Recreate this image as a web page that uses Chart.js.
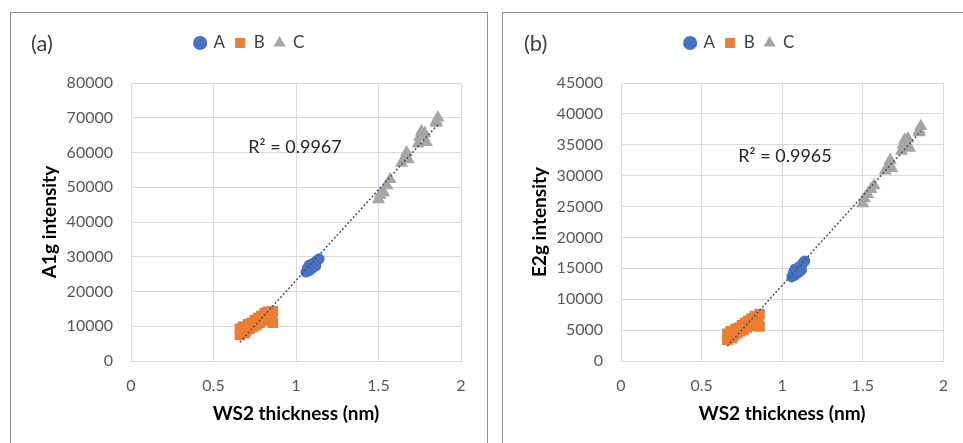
<!DOCTYPE html>
<html>
<head>
<meta charset="utf-8">
<script src="https://cdn.jsdelivr.net/npm/chart.js@4.4.1/dist/chart.umd.min.js"></script>
<style>
  body { margin: 0; background: #fff; font-family: Lato, sans-serif; overflow: hidden; }
  .panel { position: absolute; top: 12px; height: 440px; border: 1.5px solid #8f8f8f; box-sizing: border-box; }
  #boxA { left: 10px; width: 478px; }
  #boxB { left: 502px; width: 470px; }
  canvas { position: absolute; }
  .tag { position: absolute; font-size: 22px; line-height: 26px; color: #404040; }
</style>
</head>
<body>
<div class="panel" id="boxA"></div>
<div class="panel" id="boxB"></div>
<canvas id="chartA" width="477" height="431" style="left:10px;top:12px;width:477px;height:431px"></canvas>
<canvas id="chartB" width="461" height="431" style="left:502px;top:12px;width:461px;height:431px"></canvas>
<div class="tag" style="left:31px;top:30px">(a)</div>
<div class="tag" style="left:524px;top:30px">(b)</div>
<script>
// series labels
const seriesNames = ['A', 'B', 'C'];

// WS2 thickness (nm) per sample
const thicknessA = [1.06, 1.07, 1.08, 1.09, 1.10, 1.10, 1.11, 1.12, 1.13, 1.14, 1.08, 1.12];
const thicknessB = [0.66, 0.66, 0.67, 0.68, 0.69, 0.70, 0.71, 0.72, 0.73, 0.74, 0.75, 0.76,
                    0.77, 0.78, 0.79, 0.80, 0.81, 0.82, 0.83, 0.84, 0.85, 0.86, 0.86, 0.85];
const thicknessC = [1.50, 1.51, 1.53, 1.55, 1.57, 1.64, 1.66, 1.67, 1.68,
                    1.74, 1.75, 1.76, 1.78, 1.79, 1.85, 1.86, 1.85];

// A1g intensity
const a1gA = [25600, 26800, 26000, 27500, 26700, 28000, 28200, 28600, 29000, 29400, 27600, 27400];
const a1gB = [7500, 9300, 8200, 9900, 8000, 8800, 10600, 9300, 11000, 9800, 11800, 10300,
              12400, 11000, 13000, 11600, 13800, 12200, 14200, 12000, 13700, 11000, 14300, 12500];
const a1gC = [46500, 47800, 48500, 50500, 52300, 57000, 58500, 60000, 58000,
              62500, 64500, 66000, 65500, 63000, 68500, 70000, 69000];

// E2g intensity
const e2gA = [13600, 14400, 13900, 14800, 14300, 15100, 15300, 15500, 15900, 16200, 14900, 14700];
const e2gB = [3400, 4400, 3800, 4800, 3700, 4200, 5200, 4500, 5400, 4800, 5800, 5000,
              6200, 5400, 6500, 5700, 6900, 6000, 7300, 6000, 6900, 5600, 7600, 6300];
const e2gC = [25500, 26300, 27000, 27800, 28400, 30800, 31700, 32500, 31200,
              34000, 35000, 35800, 36000, 34500, 37000, 38000, 37300];

// axis ranges
const xMin = 0, xMax = 2, xStep = 0.5;
const a1gMax = 80000, a1gStep = 10000;
const e2gMax = 45000, e2gStep = 5000;

const r2A1g = 'R² = 0.9967';
const r2E2g = 'R² = 0.9965';

const colors = ['#4472C4', '#ED7D31', '#A5A5A5'];
const pointStyles = ['circle', 'rect', 'triangle'];
const pointRadii = [5.5, 7.4, 7.6];

function toPoints(xs, ys) {
  return xs.map((x, i) => ({ x: x, y: ys[i] }));
}

// linear least squares over all series, drawn between min and max thickness
function trendline(xs, ys) {
  const n = xs.length;
  const mx = xs.reduce((a, b) => a + b, 0) / n;
  const my = ys.reduce((a, b) => a + b, 0) / n;
  let sxy = 0, sxx = 0;
  for (let i = 0; i < n; i++) {
    sxy += (xs[i] - mx) * (ys[i] - my);
    sxx += (xs[i] - mx) * (xs[i] - mx);
  }
  const slope = sxy / sxx;
  const icpt = my - slope * mx;
  const lo = Math.min(...xs), hi = Math.max(...xs);
  return [{ x: lo, y: icpt + slope * lo }, { x: hi, y: icpt + slope * hi }];
}

// draws the R² note on the plot
const r2Plugin = {
  id: 'r2Label',
  afterDatasetsDraw(chart, args, opts) {
    const ctx = chart.ctx;
    ctx.save();
    ctx.font = '18px Lato, sans-serif';
    ctx.fillStyle = '#262626';
    ctx.textAlign = 'center';
    ctx.textBaseline = 'middle';
    ctx.fillText(opts.text, opts.x, opts.y);
    ctx.restore();
  }
};

function makeChart(id, yTitle, ys, yMax, yStep, r2Text, pad, yAxisW, r2Pos) {
  const xsAll = [...thicknessA, ...thicknessB, ...thicknessC];
  const ysAll = [...ys[0], ...ys[1], ...ys[2]];
  const xsList = [thicknessA, thicknessB, thicknessC];

  const datasets = seriesNames.map((name, i) => ({
    label: name,
    data: toPoints(xsList[i], ys[i]),
    backgroundColor: colors[i],
    borderColor: colors[i],
    borderWidth: 0,
    pointStyle: pointStyles[i],
    pointRadius: pointRadii[i],
    order: i + 1
  }));
  datasets.push({
    label: 'trend',
    type: 'line',
    data: trendline(xsAll, ysAll),
    borderColor: '#44546A',
    borderWidth: 1.5,
    borderDash: [2, 2],
    pointRadius: 0,
    showLine: true,
    fill: false,
    order: 0
  });

  const tickFont = { family: 'Lato, sans-serif', size: 16 };
  const titleFont = { family: 'Lato, sans-serif', size: 19, weight: 'bold', lineHeight: 1.2 };

  return new Chart(document.getElementById(id), {
    type: 'scatter',
    data: { datasets: datasets },
    options: {
      responsive: false,
      animation: false,
      devicePixelRatio: 1,
      layout: { padding: pad },
      plugins: {
        legend: {
          position: 'top',
          align: 'center',
          weight: 3000,
          labels: {
            usePointStyle: true,
            boxWidth: 10,
            boxHeight: 10,
            padding: 10,
            color: '#404040',
            font: { family: 'Lato, sans-serif', size: 17 },
            filter: item => item.text !== 'trend'
          }
        },
        // blank title used as spacer between legend and plot
        title: {
          display: true,
          text: ' ',
          font: { size: 1, lineHeight: 1.2 },
          padding: { top: 0, bottom: 20.3 }
        },
        tooltip: { enabled: false },
        r2Label: { text: r2Text, x: r2Pos[0], y: r2Pos[1] }
      },
      scales: {
        x: {
          type: 'linear',
          min: xMin,
          max: xMax,
          ticks: { stepSize: xStep, color: '#595959', font: tickFont, padding: 15, callback: v => String(v) },
          grid: { color: '#D9D9D9', lineWidth: 1, drawTicks: false },
          border: { color: '#D9D9D9' },
          title: { display: true, text: 'WS2 thickness (nm)', color: '#000', font: titleFont, padding: 0 },
          afterFit: s => { s.height = 64.4; }
        },
        y: {
          type: 'linear',
          min: 0,
          max: yMax,
          ticks: { stepSize: yStep, color: '#595959', font: tickFont, padding: 18, callback: v => String(v) },
          grid: { color: '#D9D9D9', lineWidth: 1, drawTicks: false },
          border: { color: '#D9D9D9' },
          title: { display: true, text: yTitle, color: '#000', font: titleFont, padding: 0 },
          afterFit: s => { s.width = yAxisW; }
        }
      }
    },
    plugins: [r2Plugin]
  });
}

makeChart('chartA', 'A1g intensity', [a1gA, a1gB, a1gC], a1gMax, a1gStep, r2A1g,
  { top: 12.5, left: 28.6, right: 26, bottom: 17.6 }, 92.4, [285, 135]);
makeChart('chartB', 'E2g intensity', [e2gA, e2gB, e2gC], e2gMax, e2gStep, r2E2g,
  { top: 12.5, left: 26.6, right: 12, bottom: 17.6 }, 92.4, [283, 144]);
</script>
</body>
</html>
